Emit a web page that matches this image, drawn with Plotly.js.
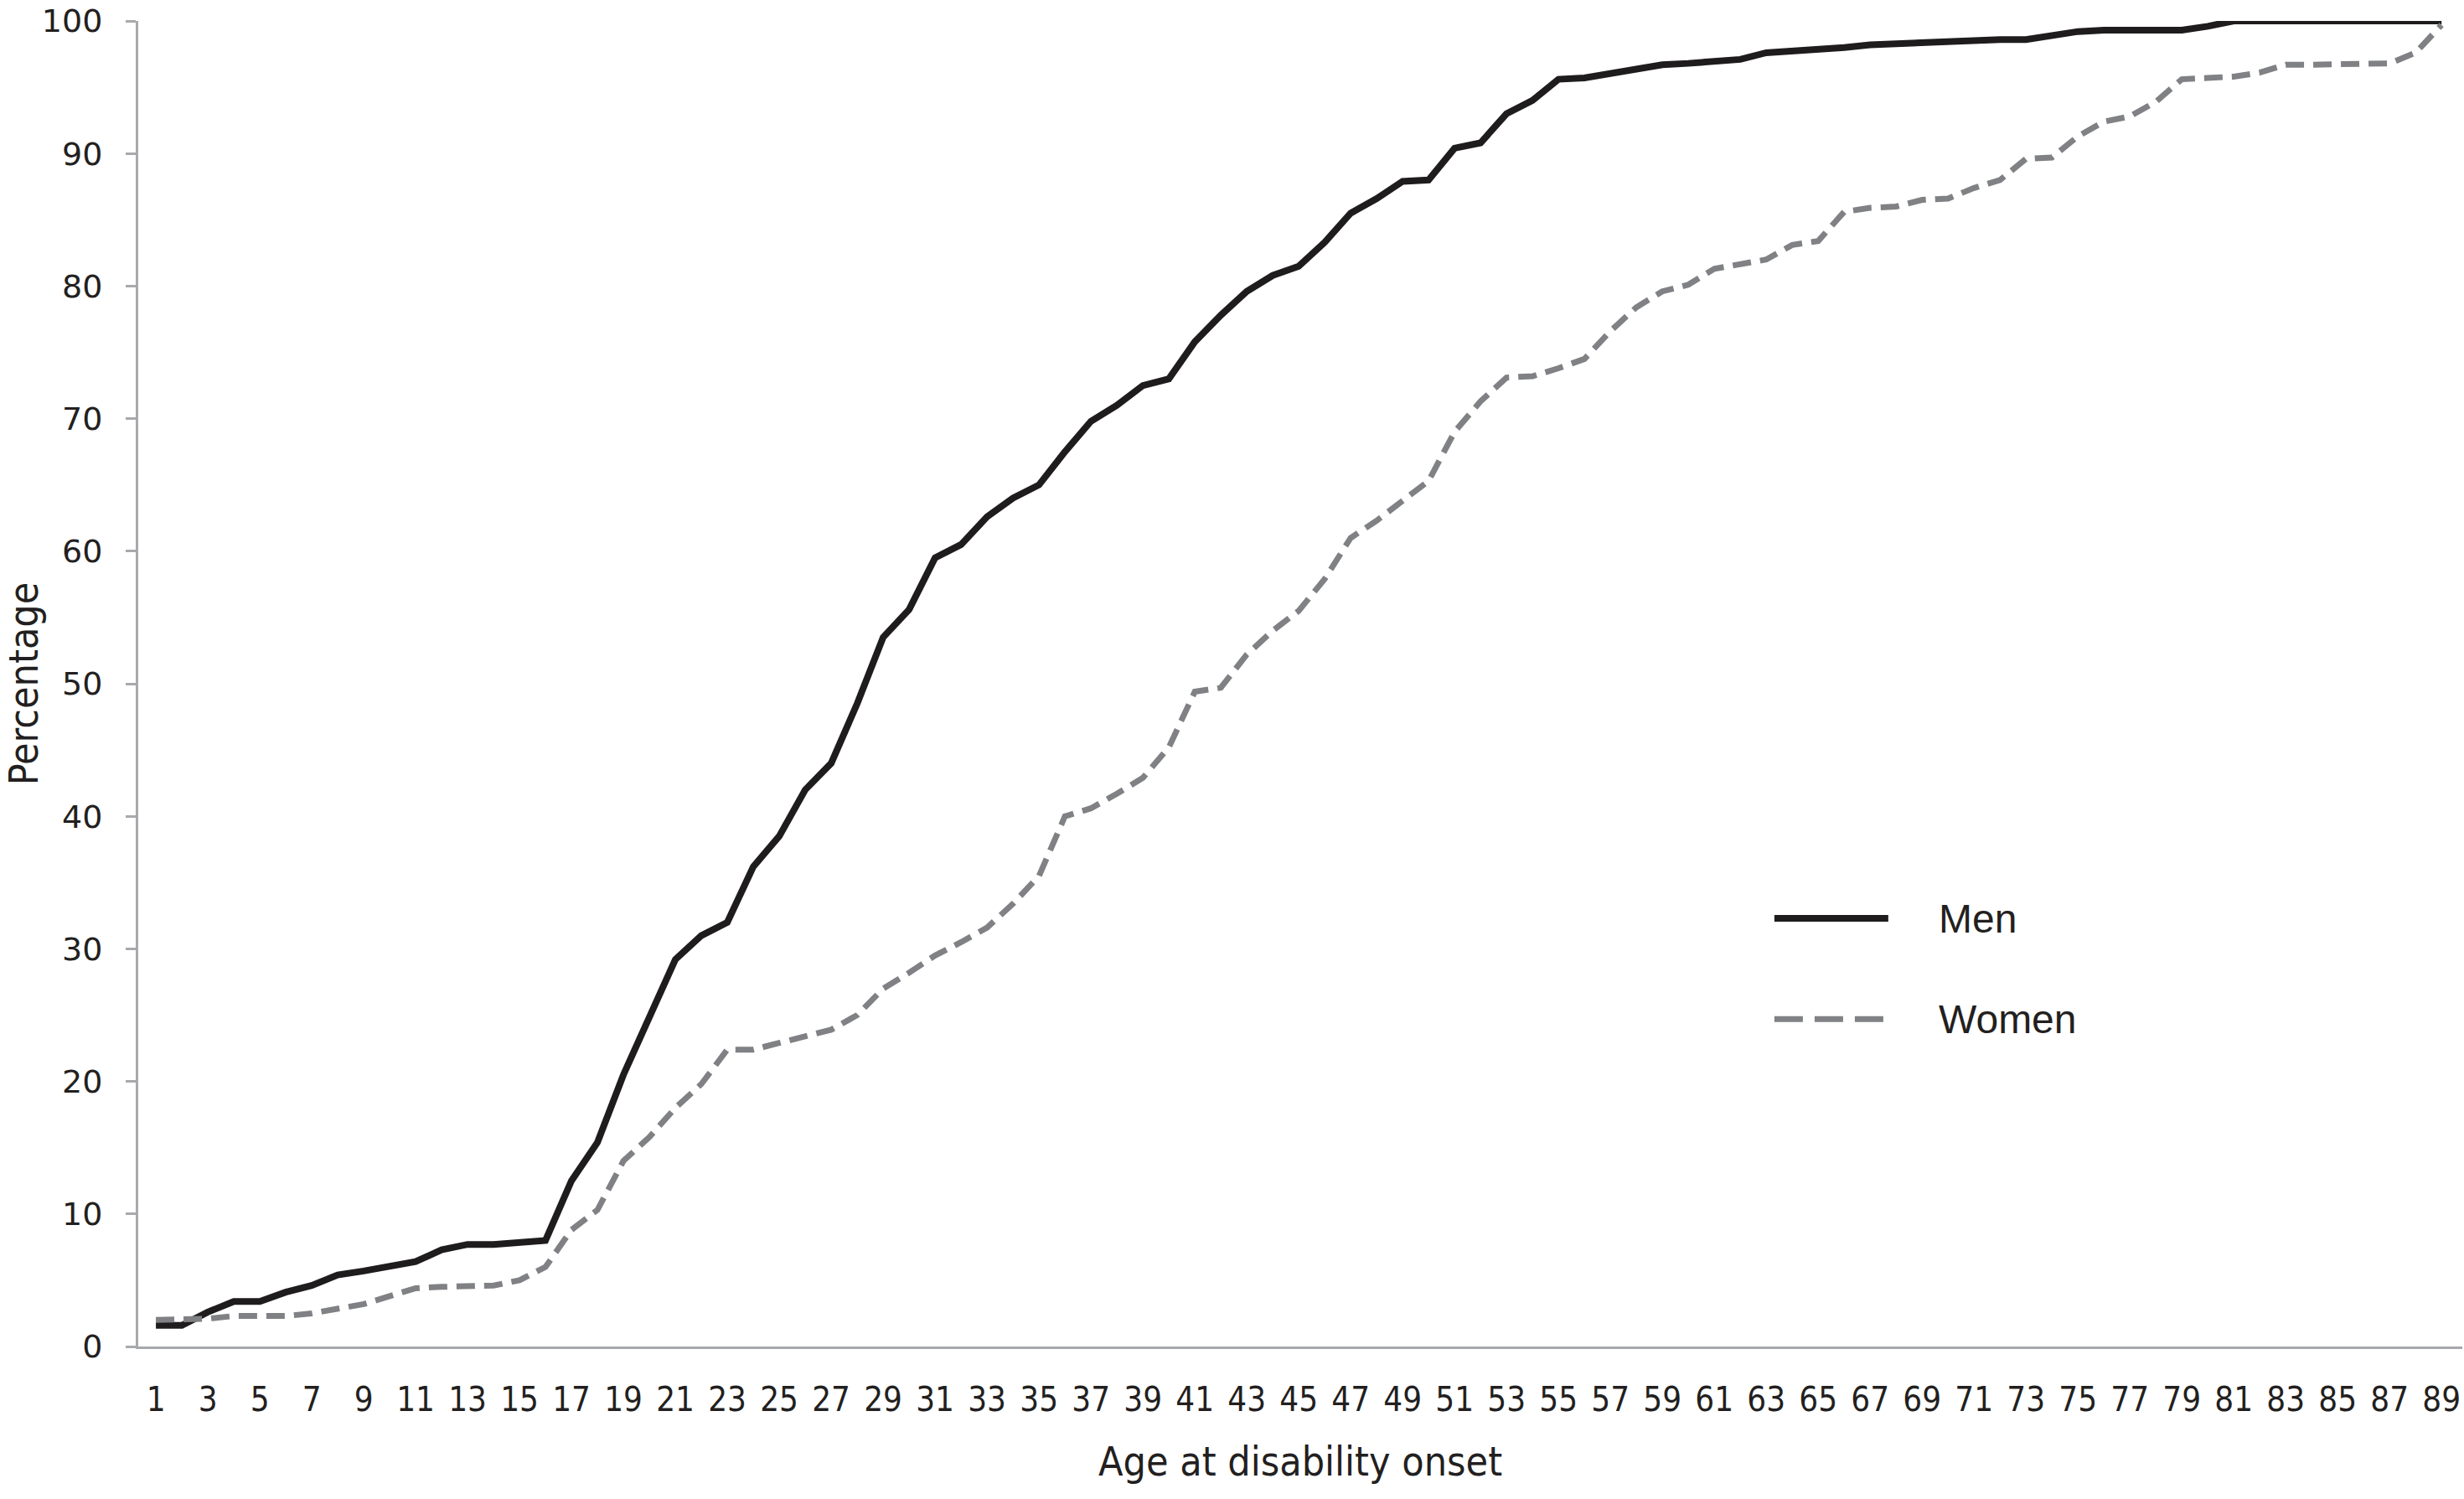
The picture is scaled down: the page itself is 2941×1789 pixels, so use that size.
<!DOCTYPE html>
<html>
<head>
<meta charset="utf-8">
<script src="https://cdn.plot.ly/plotly-3.0.1.min.js"></script>
<style>
html,body{margin:0;padding:0;background:#fff;}
#chart{width:2941px;height:1789px;}
</style>
</head>
<body>
<div id="chart"></div>
<script>
// Age at disability onset (years)
const ages = [];
for (let a = 1; a <= 89; a++) ages.push(a);

// Cumulative percentage, men
const men = [
  1.6, 1.6, 2.6, 3.4, 3.4, 4.1, 4.6, 5.4, 5.7, 6.1,
  6.4, 7.3, 7.7, 7.7, 7.8, 8.0, 12.5, 15.4, 20.5, 24.8,
  29.2, 31.0, 32.0, 36.2, 38.5, 42.0, 44.0, 48.5, 53.5, 55.6,
  59.5, 60.5, 62.6, 64.0, 65.0, 67.5, 69.8, 71.0, 72.5, 73.0,
  75.8, 77.8, 79.6, 80.8, 81.5, 83.3, 85.5, 86.6, 87.9, 88.0,
  90.4, 90.8, 93.0, 94.0, 95.6, 95.7, 96.0, 96.3, 96.7, 96.8,
  97.0, 97.1, 97.6, 97.7, 97.9, 98.0, 98.2, 98.3, 98.4, 98.5,
  98.5, 98.6, 98.6, 98.9, 99.2, 99.3, 99.3, 99.3, 99.3, 99.6,
  100, 100, 100, 100, 100, 100, 100, 100, 100
];

// Cumulative percentage, women
const women = [
  2.0, 2.0, 2.1, 2.3, 2.3, 2.3, 2.5, 2.8, 3.2, 3.8,
  4.4, 4.5, 4.5, 4.6, 5.0, 6.0, 8.8, 10.3, 14.0, 15.8,
  18.0, 19.8, 22.4, 22.4, 22.9, 23.4, 23.9, 25.0, 27.0, 28.2,
  29.5, 30.5, 31.6, 33.4, 35.5, 40.0, 40.6, 41.7, 42.9, 45.2,
  49.4, 49.7, 52.2, 54.0, 55.5, 57.9, 61.0, 62.3, 63.8, 65.3,
  69.0, 71.3, 73.1, 73.2, 73.8, 74.5, 76.6, 78.4, 79.6, 80.1,
  81.3, 81.6, 82.0, 83.1, 83.4, 85.6, 85.9, 86.0, 86.5, 86.6,
  87.4, 88.0, 89.6, 89.7, 91.3, 92.4, 92.8, 93.9, 95.6, 95.7,
  95.8, 96.1, 96.7, 96.7, 96.7, 96.7, 96.8, 97.6, 99.7
];

const xTickVals = [];
for (let a = 1; a <= 89; a += 2) xTickVals.push(a);
const yTickVals = [0, 10, 20, 30, 40, 50, 60, 70, 80, 90, 100];

const seriesNames = ['Men', 'Women'];
const xTitle = 'Age at disability onset';
const yTitle = 'Percentage';

const menColor = '#1f1c1d';
const womenColor = '#808184';
const axisColor = '#a7a9ac';
const narrow = 'Liberation Sans Narrow, Arial Narrow, DejaVu Sans Condensed, sans-serif';

const traces = [
  {x: ages, y: men, name: seriesNames[0], type: 'scatter', mode: 'lines',
   line: {color: menColor, width: 8}, showlegend: false, cliponaxis: false},
  {x: ages, y: women, name: seriesNames[1], type: 'scatter', mode: 'lines',
   line: {color: womenColor, width: 7, dash: '22px,11px'}, showlegend: false, cliponaxis: false}
];

const legendY = [0.323, 0.247];
const layout = {
  width: 2941, height: 1789,
  margin: {l: 165, r: 2, t: 25, b: 182},
  paper_bgcolor: '#ffffff', plot_bgcolor: '#ffffff',
  font: {family: 'Liberation Sans, Arial, sans-serif', color: '#231f20'},
  xaxis: {
    range: [0.32, 89.8], tickmode: 'array', tickvals: xTickVals,
    ticktext: xTickVals.map(String), ticks: '', showgrid: false, zeroline: false,
    showline: true, linecolor: axisColor, linewidth: 3,
    tickfont: {family: narrow, size: 40, color: '#231f20'},
    ticklabelstandoff: 26,
    title: {text: xTitle, font: {family: narrow, size: 48, color: '#231f20'}, standoff: 36}
  },
  yaxis: {
    range: [0, 100], tickmode: 'array', tickvals: yTickVals,
    ticks: 'outside', ticklen: 12, tickwidth: 3, tickcolor: axisColor,
    showgrid: false, zeroline: false, showline: true, linecolor: axisColor, linewidth: 3,
    tickfont: {family: 'DejaVu Sans, sans-serif', size: 38, color: '#231f20'},
    ticklabelstandoff: 20, ticklabeloverflow: 'allow',
    title: {text: yTitle, font: {family: narrow, size: 48, color: '#231f20'}, standoff: 8}
  },
  shapes: [
    {type: 'line', xref: 'paper', yref: 'paper', x0: 0.704, x1: 0.753, y0: legendY[0], y1: legendY[0],
     line: {color: menColor, width: 8}},
    {type: 'line', xref: 'paper', yref: 'paper', x0: 0.704, x1: 0.753, y0: legendY[1], y1: legendY[1],
     line: {color: womenColor, width: 7, dash: '34px,14px'}}
  ],
  annotations: [
    {text: seriesNames[0], xref: 'paper', yref: 'paper', x: 0.774, y: legendY[0], xanchor: 'left', yanchor: 'middle',
     showarrow: false, font: {family: 'Liberation Sans, Arial, sans-serif', size: 48, color: '#231f20'}},
    {text: seriesNames[1], xref: 'paper', yref: 'paper', x: 0.774, y: legendY[1], xanchor: 'left', yanchor: 'middle',
     showarrow: false, font: {family: 'Liberation Sans, Arial, sans-serif', size: 48, color: '#231f20'}}
  ]
};

Plotly.newPlot('chart', traces, layout, {displayModeBar: false, staticPlot: true});
</script>
</body>
</html>
